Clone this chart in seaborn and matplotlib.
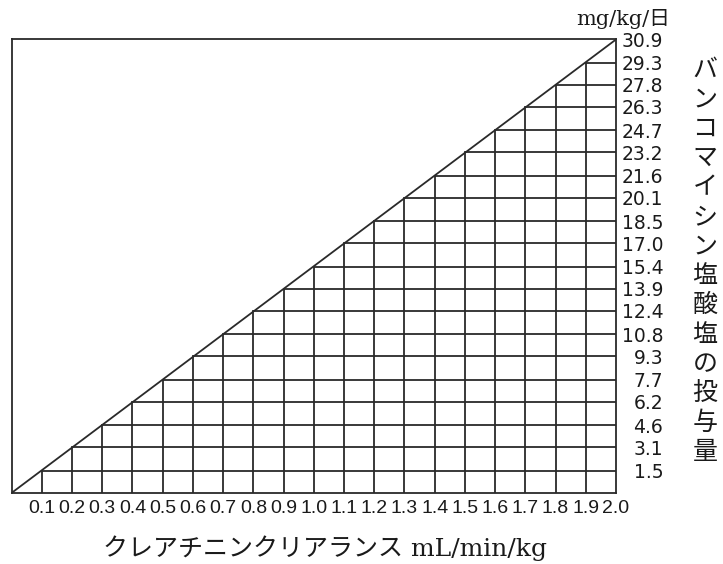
import matplotlib
matplotlib.use("Agg")
import matplotlib.pyplot as plt
import seaborn as sns
import pandas as pd
import numpy as np

# ---- data ----
clearance = [0.1, 0.2, 0.3, 0.4, 0.5, 0.6, 0.7, 0.8, 0.9, 1.0,
             1.1, 1.2, 1.3, 1.4, 1.5, 1.6, 1.7, 1.8, 1.9, 2.0]
clearance_labels = ["0.1", "0.2", "0.3", "0.4", "0.5", "0.6", "0.7", "0.8", "0.9", "1.0",
                    "1.1", "1.2", "1.3", "1.4", "1.5", "1.6", "1.7", "1.8", "1.9", "2.0"]
dose = [1.5, 3.1, 4.6, 6.2, 7.7, 9.3, 10.8, 12.4, 13.9, 15.4,
        17.0, 18.5, 20.1, 21.6, 23.2, 24.7, 26.3, 27.8, 29.3, 30.9]
dose_labels = ["1.5", "3.1", "4.6", "6.2", "7.7", "9.3", "10.8", "12.4", "13.9", "15.4",
               "17.0", "18.5", "20.1", "21.6", "23.2", "24.7", "26.3", "27.8", "29.3", "30.9"]

xlabel_text = "クレアチニンクリアランス mL/min/kg"
ylabel_text = "バンコマイシン塩酸塩の投与量"
unit_text = "mg/kg/日"

# ---- build line segments (nomogram grid under the diagonal) ----
xmax, ymax = clearance[-1], dose[-1]
rows = []
rows += [("diag", 0.0, 0.0), ("diag", xmax, ymax)]
for c, d in zip(clearance[:-1], dose[:-1]):
    rows += [(f"v{c}", c, 0.0), (f"v{c}", c, d)]
for c, d in zip(clearance[:-1], dose[:-1]):
    rows += [(f"h{d}", c, d), (f"h{d}", xmax, d)]
seg = pd.DataFrame(rows, columns=["seg", "x", "y"])

sns.set_theme(style="white")
plt.rcParams["font.family"] = ["DejaVu Sans", "Noto Sans CJK JP"]

fig = plt.figure(figsize=(7.23, 5.64), dpi=100)
ax = fig.add_axes([0.016, 0.126, 0.836, 0.804])

sns.lineplot(data=seg, x="x", y="y", units="seg", estimator=None, sort=False,
             color="#2a2a2a", linewidth=1.3, ax=ax, legend=False)

ax.set_xlim(0, xmax)
ax.set_ylim(0, ymax)

for s in ax.spines.values():
    s.set_visible(True)
    s.set_color("#2a2a2a")
    s.set_linewidth(1.3)

# x ticks
ax.set_xticks(clearance)
ax.set_xticklabels(clearance_labels,
                   fontfamily=["Liberation Sans Narrow", "Liberation Sans"],
                   fontsize=14, color="#1a1a1a")
ax.tick_params(axis="x", length=0, pad=5)

# y ticks on the right
ax.yaxis.tick_right()
ax.set_yticks(dose)
ax.set_yticklabels(dose_labels, fontfamily=["DejaVu Sans"], fontsize=13.5,
                   color="#1a1a1a", ha="right")
ax.tick_params(axis="y", length=0, pad=34)

ax.set_xlabel("")
ax.set_ylabel("")

# axis titles
fig.text(0.45, 0.028, xlabel_text, ha="center", va="center", fontsize=18,
         family=["DejaVu Serif", "Noto Sans CJK JP"], color="#1a1a1a")
fig.text(0.975, 0.537, "\n".join(ylabel_text), ha="center", va="center",
         fontsize=18, linespacing=1.17,
         family=["Noto Sans CJK JP"], color="#1a1a1a")
fig.text(0.862, 0.967, unit_text, ha="center", va="center", fontsize=15,
         family=["DejaVu Serif", "Noto Sans CJK JP"], color="#1a1a1a")

fig.savefig("out.png", dpi=100, facecolor="white")
